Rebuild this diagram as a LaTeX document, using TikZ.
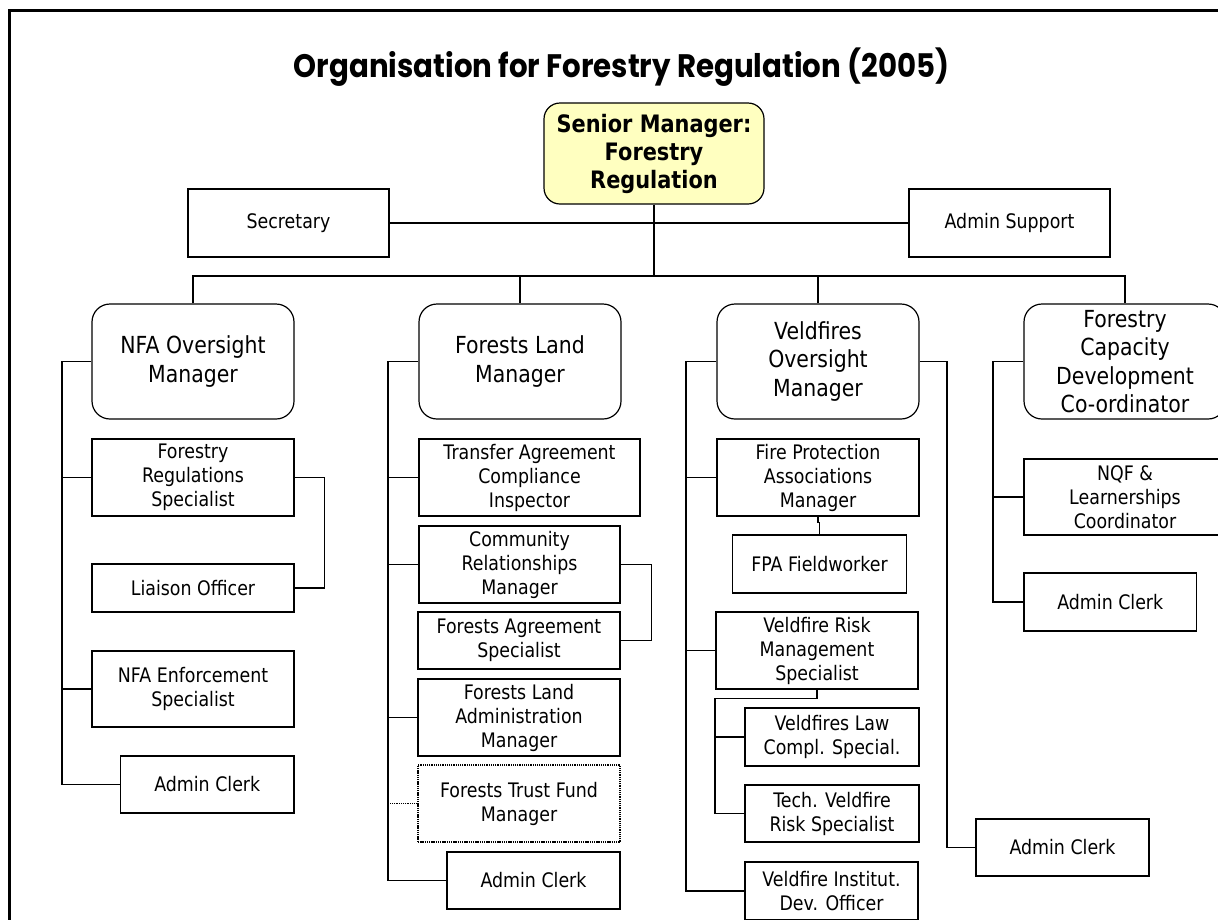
\documentclass[tikz,border=0pt]{standalone}
\usepackage{fontspec}
\setmainfont{DejaVu Sans}[FakeStretch=0.87]
\newfontfamily\titlefont{Poppins}[FakeStretch=0.9]
\definecolor{senioryellow}{RGB}{255,255,192}
\tikzset{
  unit/.style={draw=black, line width=1.2pt, inner sep=0pt, align=center,
               font=\fontsize{20}{24}\selectfont},
  head/.style={unit, rounded corners=18pt, font=\fontsize{23.5}{28.5}\selectfont},
  sz/.style 2 args={minimum width=#1pt, minimum height=#2pt},
  link/.style={line width=1.2pt},
  vacant/.style={dash pattern=on 1.3pt off 0.9pt},
}
\begin{document}
\begin{tikzpicture}[x=1pt,y=-1pt]
\useasboundingbox (0,0) rectangle (1218,919);
\clip (0,0) rectangle (1218,919);
% page frame
\draw[line width=2.2pt] (9.5,940) -- (9.5,10.5) -- (1240,10.5);

\node[font=\titlefont\bfseries\fontsize{32.5}{36}\selectfont] (title) at (621.5,67)
  {Organisation for Forestry Regulation (2005)};

% top level
\node[unit, rounded corners=16pt, fill=senioryellow, sz={220}{101},
      font=\bfseries\fontsize{24}{28}\selectfont] (senior) at (654,153.5)
  {Senior Manager:\\Forestry\\Regulation};
\node[unit, sz={201}{68}] (secr) at (288.5,223) {Secretary};
\node[unit, sz={201}{68}] (adms) at (1009.5,223) {Admin Support};
\coordinate (hub) at (654,276);

% managers
\node[head, sz={202}{115}] (nfa) at (193,361.5) {NFA Oversight\\Manager};
\node[head, sz={202}{115}] (flm) at (520,361.5) {Forests Land\\Manager};
\node[head, sz={202}{115}] (vom) at (818,361.5) {Veldfires\\Oversight\\Manager};
\node[head, sz={202}{115}] (fcd) at (1125,361.5) {Forestry\\Capacity\\Development\\Co-ordinator};

% NFA oversight unit
\node[unit, sz={202}{77}] (frs) at (193,477.5) {Forestry\\Regulations\\Specialist};
\node[unit, sz={202}{48}] (liai) at (193,588) {Liaison Officer};
\node[unit, sz={202}{76}] (nfae) at (193,689) {NFA Enforcement\\Specialist};
\node[unit, sz={173.5}{57}] (nclk) at (207.25,784.5) {Admin Clerk};

% forests land unit
\node[unit, sz={221}{77}] (tac) at (529.5,477.5) {Transfer Agreement\\Compliance\\Inspector};
\node[unit, sz={201}{77}] (crm) at (519.5,564.5) {Community\\Relationships\\Manager};
\node[unit, sz={202}{57}] (fas) at (519,640.5) {Forests Agreement\\Specialist};
\node[unit, sz={202}{77}] (flam) at (519,717.5) {Forests Land\\Administration\\Manager};
\node[unit, vacant, sz={202}{77}] (ftf) at (519,803.5) {Forests Trust Fund\\Manager};
\node[unit, sz={173}{57}] (fclk) at (533.5,880.5) {Admin Clerk};

% veldfires unit
\node[unit, sz={202}{77}] (fpam) at (818,477.5) {Fire Protection\\Associations\\Manager};
\node[unit, sz={174}{58}] (fpaf) at (819.5,564) {FPA Fieldworker};
\node[unit, sz={202}{77}] (vrms) at (817,650.5) {Veldfire Risk\\Management\\Specialist};
\node[unit, sz={174}{58}] (vlcs) at (832,737) {Veldfires Law\\Compl. Special.};
\node[unit, sz={174}{57}] (tvrs) at (832,813.5) {Tech. Veldfire\\Risk Specialist};
\node[unit, sz={173}{58}] (vido) at (831.5,891) {Veldfire Institut.\\Dev. Officer};
\node[unit, sz={173}{57}] (vclk) at (1062.5,847.5) {Admin Clerk};

% capacity development unit
\node[unit, sz={202}{76}] (nqf) at (1125,497) {NQF \&\\Learnerships\\Coordinator};
\node[unit, sz={172.5}{58}] (cclk) at (1110.25,602) {Admin Clerk};

% spine positions
\coordinate (nfax) at (62,0);
\coordinate (flmx) at (388,0);
\coordinate (vomx) at (686,0);
\coordinate (vomr) at (947,0);
\coordinate (subx) at (715,0);
\coordinate (fcdx) at (993,0);

% top connectors
\draw[link] (secr.east) -- (adms.west);
\draw[link] (senior.south) -- (hub);
\draw[link] (nfa.north) |- (hub) -| (fcd.north);
\draw[link] (flm.north) -- (flm.north |- hub);
\draw[link] (vom.north) -- (vom.north |- hub);

% NFA oversight connectors
\draw[link] (nfa.west) -- (nfa.west -| nfax) |- (nclk.west);
\draw[link] (frs.west) -- (frs.west -| nfax);
\draw[link] (nfae.west) -- (nfae.west -| nfax);
\draw[link] (frs.east) -- ++(30,0) |- (liai.east);

% forests land connectors
\draw[link] (flm.west) -- (flm.west -| flmx) |- (fclk.west);
\draw[link] (tac.west) -- (tac.west -| flmx);
\draw[link] (crm.west) -- (crm.west -| flmx);
\draw[link] (flam.west) -- (flam.west -| flmx);
\draw[link, vacant] (ftf.west) -- (ftf.west -| flmx);
\draw[link] (crm.east) -- ++(31,0) |- (fas.east);

% veldfires connectors
\draw[link] (vom.west) -- (vom.west -| vomx) |- (vido.west);
\draw[link] (vom.east) -- (vom.east -| vomr) |- (vclk.west);
\draw[link] (fpam.west) -- (fpam.west -| vomx);
\draw[link] (vrms.west) -- (vrms.west -| vomx);
\draw[link] (fpam.south) -- ++(0,6) -| (fpaf.north);
\draw[link] (vrms.south) -- ++(0,9) -| (subx |- tvrs.west) -- (tvrs.west);
\draw[link] (vlcs.west) -- (vlcs.west -| subx);

% capacity development connectors
\draw[link] (fcd.west) -- (fcd.west -| fcdx) |- (cclk.west);
\draw[link] (nqf.west) -- (nqf.west -| fcdx);
\end{tikzpicture}
\end{document}
